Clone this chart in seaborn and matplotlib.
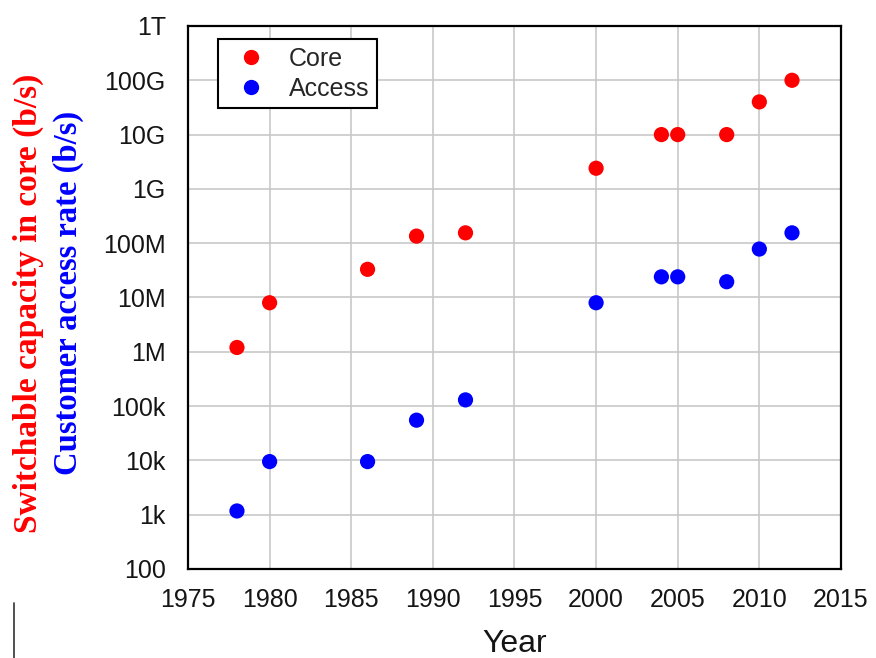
import pandas as pd
import numpy as np
import matplotlib.pyplot as plt
import seaborn as sns
from matplotlib.lines import Line2D
from matplotlib.ticker import FixedLocator, FixedFormatter

# datos
years = [1978, 1980, 1986, 1989, 1992, 2000, 2004, 2005, 2008, 2010, 2012]
core = [1.2e6, 8e6, 3.3e7, 1.35e8, 1.55e8, 2.4e9, 1e10, 1e10, 1e10, 4e10, 1e11]
access = [1.17e3, 9.5e3, 9.5e3, 5.5e4, 1.3e5, 8e6, 2.4e7, 2.4e7, 1.95e7, 7.8e7, 1.55e8]

ytick_vals = [1e2, 1e3, 1e4, 1e5, 1e6, 1e7, 1e8, 1e9, 1e10, 1e11, 1e12]
ytick_labels = ['100', '1k', '10k', '100k', '1M', '10M', '100M', '1G', '10G', '100G', '1T']
xtick_vals = [1975, 1980, 1985, 1990, 1995, 2000, 2005, 2010, 2015]

df = pd.DataFrame({
    'Year': years * 2,
    'rate': core + access,
    'serie': ['Core'] * len(years) + ['Access'] * len(years),
})

sns.set_style("white")
plt.rcParams['font.family'] = ['Liberation Sans', 'DejaVu Sans']

fig = plt.figure(figsize=(8.76, 6.58), dpi=100)
ax = fig.add_axes([0.2146, 0.1353, 0.7454, 0.8252])

sns.scatterplot(data=df, x='Year', y='rate', hue='serie',
                palette={'Core': '#ff0000', 'Access': '#0000ff'},
                s=120, edgecolor=None, linewidth=0, ax=ax, legend=False, zorder=3)

ax.set_yscale('log')
ax.set_xlim(1975, 2015)
ax.set_ylim(1e2, 1e12)
ax.yaxis.set_major_locator(FixedLocator(ytick_vals))
ax.yaxis.set_major_formatter(FixedFormatter(ytick_labels))
ax.yaxis.set_minor_locator(FixedLocator([]))
ax.set_xticks(xtick_vals)
ax.tick_params(axis='both', length=0, labelsize=18, colors='#151515')
ax.tick_params(axis='y', pad=16)
ax.tick_params(axis='x', pad=14)
ax.grid(True, color='#c8c8c8', linewidth=1.2)
ax.set_axisbelow(True)
for sp in ax.spines.values():
    sp.set_color('black')
    sp.set_linewidth(1.6)

ax.set_xlabel('Year', fontsize=23, labelpad=12, color='#151515')
ax.set_ylabel('')

# etiquetas del eje y en dos colores
fig.text(0.032, 0.539, 'Switchable capacity in core (b/s)', rotation=90,
         color='#ff0000', fontsize=24, fontweight='bold', family='Liberation Serif',
         ha='center', va='center')
fig.text(0.078, 0.555, 'Customer access rate (b/s)', rotation=90,
         color='#0000ff', fontsize=23.5, fontweight='bold', family='Liberation Serif',
         ha='center', va='center')

handles = [Line2D([], [], marker='o', linestyle='', color='#ff0000', markersize=10),
           Line2D([], [], marker='o', linestyle='', color='#0000ff', markersize=10)]
leg = ax.legend(handles, ['Core', 'Access'], loc='upper left',
                bbox_to_anchor=(0.046, 0.976), fontsize=18, frameon=True,
                fancybox=False, edgecolor='black', framealpha=1,
                handletextpad=0.52, borderpad=0.3, labelspacing=0.25,
                handlelength=2.0, borderaxespad=0)
leg.get_frame().set_linewidth(1.5)

# pequena linea vertical abajo a la izquierda
fig.add_artist(Line2D([0.016, 0.016], [0.0, 0.083], color='#333333', linewidth=1.2))

fig.savefig('out.png', dpi=100)
